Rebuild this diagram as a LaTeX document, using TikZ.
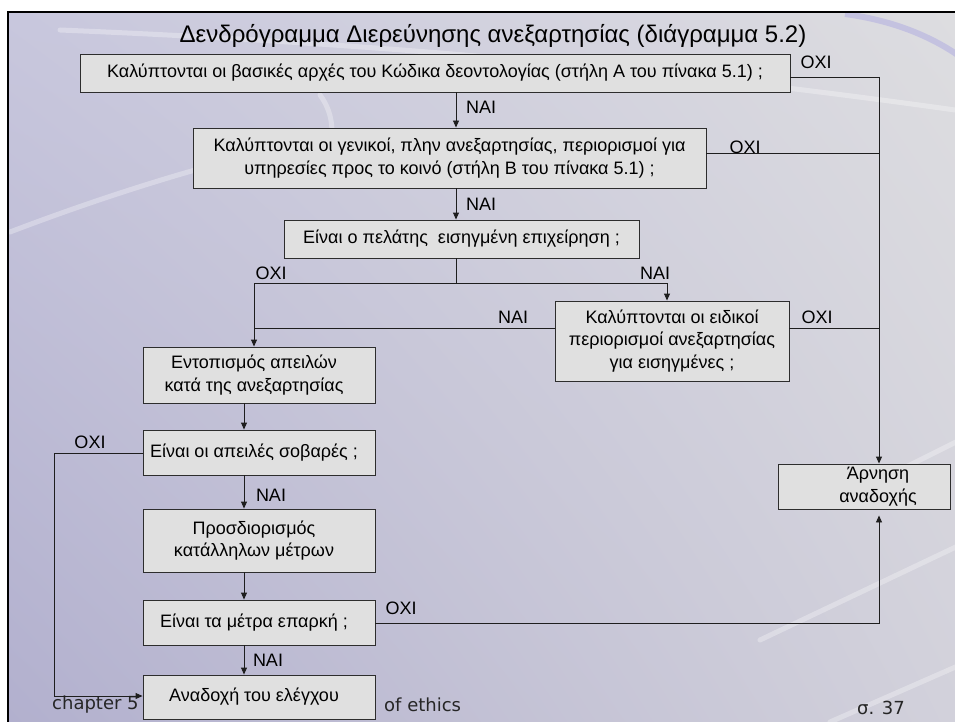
\documentclass[tikz,border=0pt]{standalone}
\usepackage{fontspec}
\setmainfont{Liberation Sans}
\newfontfamily\footfont{DejaVu Sans}
\usetikzlibrary{arrows.meta,shadings}
\definecolor{boxfill}{RGB}{224,224,224}
\definecolor{boxline}{RGB}{45,45,45}
\definecolor{lineclr}{RGB}{30,30,30}
\definecolor{bgUL}{RGB}{200,199,221}
\definecolor{bgUR}{RGB}{221,221,224}
\definecolor{bgLL}{RGB}{178,176,206}
\definecolor{bgLR}{RGB}{210,209,219}
\definecolor{swoosh}{RGB}{196,194,224}
\newcommand\bxfont{\fontsize{18}{22.5}\selectfont}
\newcommand\lsh{\hspace*{10pt}}
\newcommand\rsh{\hspace*{28pt}}
\begin{document}
\begin{tikzpicture}[x=1pt,y=-1pt,
  box/.style={draw=boxline, fill=boxfill, line width=0.9pt, rectangle, inner sep=0pt, align=center, font=\bxfont},
  conn/.style={draw=lineclr, line width=0.9pt},
  arr/.style={conn, -{Triangle[length=7pt,width=6pt]}},
  lbl/.style={font=\bxfont, inner sep=0pt},
  foot/.style={font=\footfont\fontsize{18}{20}\selectfont, inner sep=0pt, text=black!85},
  streak/.style={white, opacity=0.3, line width=5pt, line cap=round}
]
\useasboundingbox (0,0) rectangle (955,722);
\clip (0,0) rectangle (955,722);
\fill[white] (0,0) rectangle (955,722);
\shade[upper left=bgUL, upper right=bgUR, lower left=bgLL, lower right=bgLR] (8,12) rectangle (955,722);
% decorative streaks
\draw[streak] (10,232) .. controls (120,190) and (250,150) .. (330,140);
\draw[streak] (60,30) .. controls (300,40) and (600,60) .. (955,110);
\draw[streak] (320,95) .. controls (335,115) and (335,140) .. (325,165);
\draw[streak] (760,640) -- (960,545);
\draw[streak] (830,722) -- (960,665);
\draw[streak] (900,470) -- (960,440);
\draw[swoosh, line width=6pt] (845,14) .. controls (890,20) and (930,35) .. (962,58);
% frame
\draw[black, line width=2.5pt] (8,730) -- (8,12) -- (965,12);

% title
\node[font=\fontsize{24}{28}\selectfont, inner sep=0pt] (T) at (493,36) {Δενδρόγραμμα Διερεύνησης ανεξαρτησίας (διάγραμμα 5.2)};

% footer
\node[foot, anchor=west] (F1) at (52,705) {chapter 5};
\node[foot, anchor=west] (F2) at (384,705) {of ethics};
\node[foot] (F3) at (881,708) {σ. 37};

% boxes
\node[box, minimum width=710pt, minimum height=38pt] (B1) at (435,73) {Καλύπτονται οι βασικές αρχές του Κώδικα δεοντολογίας (στήλη Α του πίνακα 5.1) ;};
\node[box, minimum width=513pt, minimum height=60pt] (B2) at (449.5,158) {Καλύπτονται οι γενικοί, πλην ανεξαρτησίας, περιορισμοί για\\υπηρεσίες προς το κοινό (στήλη Β του πίνακα 5.1) ;};
\node[box, minimum width=355pt, minimum height=38pt] (B3) at (461.5,239) {Είναι ο πελάτης~ εισηγμένη επιχείρηση ;};
\node[box, minimum width=234pt, minimum height=80pt] (B4) at (672,341) {Καλύπτονται οι ειδικοί\\περιορισμοί ανεξαρτησίας\\για εισηγμένες ;};
\node[box, minimum width=232pt, minimum height=56pt] (B5) at (259,375) {Εντοπισμός απειλών\lsh\\κατά της ανεξαρτησίας\lsh};
\node[box, minimum width=232pt, minimum height=45pt] (B6) at (259,452.5) {\raisebox{4.5pt}{Είναι οι απειλές σοβαρές ;}\lsh};
\node[box, minimum width=232pt, minimum height=63pt] (B7) at (259,540.5) {Προσδιορισμός\lsh\\κατάλληλων μέτρων\lsh};
\node[box, minimum width=232pt, minimum height=45pt] (B8) at (259,622.5) {\raisebox{2.5pt}{Είναι τα μέτρα επαρκή ;}\lsh};
\node[box, minimum width=232pt, minimum height=44pt] (B9) at (259,697) {\raisebox{5pt}{Αναδοχή του ελέγχου}\lsh};
\node[box, minimum width=172pt, minimum height=45pt] (AR) at (864,486.5) {\rsh Άρνηση\\\rsh αναδοχής};

% guide coordinates
\coordinate (spine) at (456,0);
\coordinate (rx) at (879,0);
\coordinate (lx) at (254,0);
\coordinate (nx) at (667,0);
\coordinate (cx) at (244,0);
\coordinate (fx) at (54,0);
\coordinate (split) at (0,283);
\coordinate (b4y) at (0,328);
\coordinate (b1y) at (0,77);
\coordinate (b2y) at (0,153);
\coordinate (b6y) at (0,453);
\coordinate (b8y) at (0,623);
\coordinate (b9y) at (0,696);

% connectors
\draw[arr] (B1.south -| spine) -- (B2.north -| spine);
\draw[arr] (B2.south -| spine) -- (B3.north -| spine);
\draw[conn] (B3.south -| spine) -- (spine |- split);
\draw[conn] (lx |- split) -- (nx |- split);
\draw[arr] (lx |- split) -- (B5.north -| lx);
\draw[arr] (nx |- split) -- (B4.north -| nx);
\draw[conn] (B4.west |- b4y) -- (lx |- b4y);
\draw[conn] (B4.east |- b4y) -- (rx |- b4y);
\draw[conn] (B1.east |- b1y) -- (rx |- b1y);
\draw[arr] (rx |- b1y) -- (AR.north -| rx);
\draw[conn] (B2.east |- b2y) -- (rx |- b2y);
\draw[arr] (B5.south -| cx) -- (B6.north -| cx);
\draw[arr] (B6.south -| cx) -- (B7.north -| cx);
\draw[arr] (B7.south -| cx) -- (B8.north -| cx);
\draw[arr] (B8.south -| cx) -- (B9.north -| cx);
\draw[arr] (B6.west |- b6y) -- (fx |- b6y) -- (fx |- b9y) -- (B9.west |- b9y);
\draw[arr, shorten >=6pt] (B8.east |- b8y) -- (rx |- b8y) -- (AR.south -| rx);

% labels
\node[lbl] (L1) at (816,62) {ΟΧΙ};
\node[lbl] (L2) at (481,107) {ΝΑΙ};
\node[lbl] (L3) at (745,147) {ΟΧΙ};
\node[lbl] (L4) at (481,204) {ΝΑΙ};
\node[lbl] (L5) at (271,273) {ΟΧΙ};
\node[lbl] (L6) at (655,273) {ΝΑΙ};
\node[lbl] (L7) at (513,317) {ΝΑΙ};
\node[lbl] (L8) at (817,317) {ΟΧΙ};
\node[lbl] (L9) at (90,442) {ΟΧΙ};
\node[lbl] (L10) at (271,495) {ΝΑΙ};
\node[lbl] (L11) at (401,608) {ΟΧΙ};
\node[lbl] (L12) at (268,660) {ΝΑΙ};
\end{tikzpicture}
\end{document}
